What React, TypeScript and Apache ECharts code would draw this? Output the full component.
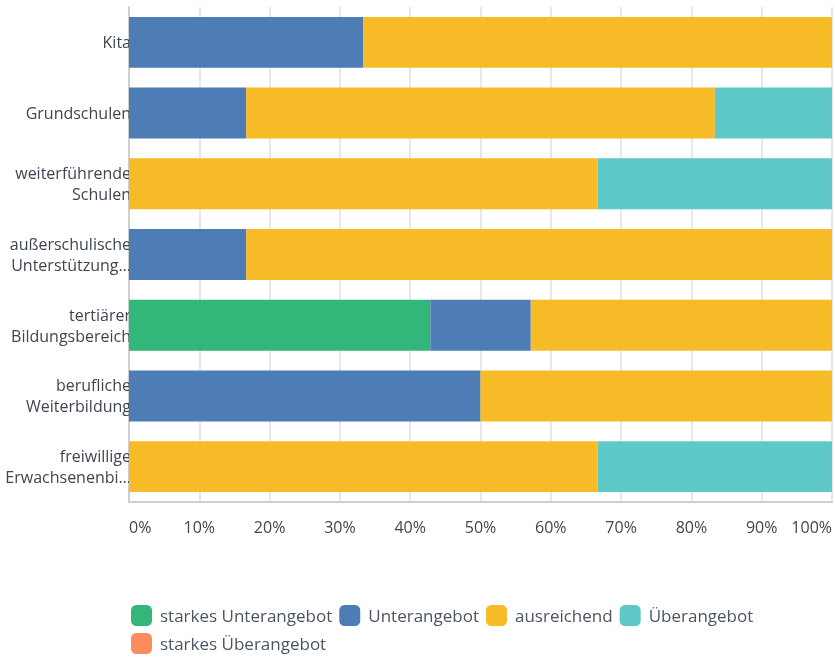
import React, { useEffect, useRef } from "react";
import * as echarts from "echarts";

const categories = [
  "Kita",
  "Grundschulen",
  "weiterführende Schulen",
  "außerschulische Unterstützungsangebote",
  "tertiärer Bildungsbereich",
  "berufliche Weiterbildung",
  "freiwillige Erwachsenenbildung",
];

const seriesNames = [
  "starkes Unterangebot",
  "Unterangebot",
  "ausreichend",
  "Überangebot",
  "starkes Überangebot",
];

const starkesUnterangebot = [0, 0, 0, 0, 42.86, 0, 0];
const unterangebot = [33.33, 16.67, 0, 16.67, 14.29, 50, 0];
const ausreichend = [66.67, 66.67, 66.67, 83.33, 42.86, 50, 66.67];
const ueberangebot = [0, 16.67, 33.33, 0, 0, 0, 33.33];
const starkesUeberangebot = [0, 0, 0, 0, 0, 0, 0];

const colors = ["#32b67a", "#4e7db6", "#f8bb28", "#5fc8c9", "#fb8c5f"];

const FONT = "Open Sans";

export default function App() {
  const ref = useRef<HTMLDivElement>(null);
  useEffect(() => {
    const chart = echarts.init(ref.current!, undefined, { renderer: "svg" });
    const values = [
      starkesUnterangebot,
      unterangebot,
      ausreichend,
      ueberangebot,
      starkesUeberangebot,
    ];
    chart.setOption({
      animation: false,
      color: colors,
      textStyle: { fontFamily: FONT },
      grid: { left: 129, right: 3, top: 7, bottom: 155, containLabel: false },
      legend: {
        left: 126,
        top: 600,
        width: 690,
        itemWidth: 21,
        itemHeight: 21,
        itemGap: 7,
        icon: "roundRect",
        textStyle: {
          fontFamily: FONT,
          fontSize: 17,
          lineHeight: 20,
          color: "#4b5462",
          padding: [0, 0, 0, 3],
        },
        data: seriesNames,
      },
      xAxis: {
        type: "value",
        min: 0,
        max: 100,
        interval: 10,
        axisLine: { show: true, lineStyle: { color: "#cfcfcf", width: 2 } },
        axisTick: { show: false },
        splitLine: { show: true, lineStyle: { color: "#e8e8e8", width: 2 } },
        axisLabel: {
          formatter: "{value}%",
          margin: 17,
          fontSize: 16,
          color: "#3e4653",
          fontFamily: FONT,
          alignMinLabel: "left",
          alignMaxLabel: "right",
        },
      },
      yAxis: {
        type: "category",
        inverse: true,
        data: categories,
        axisLine: { show: true, lineStyle: { color: "#cfcfcf", width: 2 } },
        axisTick: { show: false },
        axisLabel: {
          margin: -2,
          fontSize: 16,
          lineHeight: 21,
          color: "#3e4653",
          fontFamily: FONT,
          width: 128,
          overflow: "truncate",
          ellipsis: "…",
          formatter: (v: string) => {
            const i = v.indexOf(" ");
            return i < 0 ? v : v.slice(0, i) + "\n" + v.slice(i + 1);
          },
        },
      },
      series: seriesNames.map((name, i) => ({
        name,
        type: "bar",
        stack: "total",
        barCategoryGap: "28%",
        data: values[i],
        itemStyle: { color: colors[i] },
      })),
    });
    return () => chart.dispose();
  }, []);
  return (
    <div
      ref={ref}
      style={{ position: "fixed", left: 0, top: 0, width: 835, height: 657 }}
    />
  );
}
